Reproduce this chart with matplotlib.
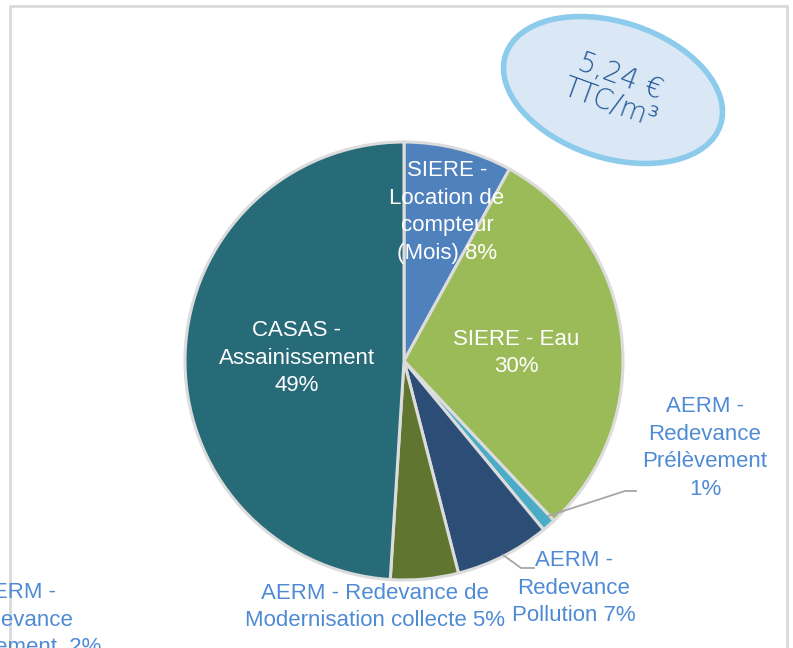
import matplotlib.pyplot as plt
from matplotlib.patches import Ellipse

# slices, clockwise from 12 o'clock
labels = ['SIERE -\nLocation de\ncompteur\n(Mois) 8%',
          'SIERE - Eau\n30%',
          'AERM -\nRedevance\nPrélèvement\n1%',
          'AERM -\nRedevance\nPollution 7%',
          'AERM - Redevance de\nModernisation collecte 5%',
          'CASAS -\nAssainissement\n49%']
shares = [8, 30, 1, 7, 5, 49]
colors = ['#4f81bd', '#9bbb59', '#4bacc6', '#2c4d75', '#5f7530', '#276a78']
cut_label = 'AERM -\nRedevance\nPrélèvement  2%'
badge_text = '5,24 €\nTTC/m³'

W, H = 793, 648
fig = plt.figure(figsize=(W / 100, H / 100), dpi=100)
ax = fig.add_axes([0, 0, 1, 1])
ax.set_xlim(0, W)
ax.set_ylim(0, H)
ax.set_aspect('equal')
ax.axis('off')


def py(y):
    return H - y


# chart frame (cropped screenshot)
ax.plot([10, 10, 787, 787], [0, py(6), py(6), 0], color='#d9d9d9', lw=2, zorder=0)

ax.pie(shares, colors=colors, startangle=90, counterclock=False,
       center=(404, py(361)), radius=219,
       wedgeprops=dict(edgecolor='#dcdcdc', linewidth=2.2))
ax.set_xlim(0, W)
ax.set_ylim(0, H)

txt_blue = '#4f8bd4'
fs = 16
pos = [(447, 212), (516, 353), (705, 448), (574, 588), (375, 607), (297, 358)]
tcol = ['white', 'white', txt_blue, txt_blue, txt_blue, 'white']
for lab, (x, y), c in zip(labels, pos, tcol):
    ax.text(x, py(y), lab, ha='center', va='center', color=c, fontsize=fs,
            family='Liberation Sans', linespacing=1.4, zorder=5)
ax.text(17, py(620), cut_label, ha='center', va='center', color=txt_blue, fontsize=fs,
        family='Liberation Sans', linespacing=1.4, zorder=5)

# leader lines
ax.plot([548, 625, 636], [py(516), py(491), py(491)], color='#a6a6a6', lw=1.3)
ax.plot([503, 521, 534], [py(555), py(568), py(568)], color='#a6a6a6', lw=1.3)

# price badge
ax.add_patch(Ellipse((613, py(90)), 226, 136, angle=-18, facecolor='#dae8f5',
                     edgecolor='#8ccbec', lw=4, zorder=6))
ax.text(615, py(90), badge_text, ha='center', va='center', rotation=-20,
        color='#1f5597', fontsize=20, family='DejaVu Sans', fontweight='light',
        linespacing=1.0, zorder=7)

fig.savefig('out.png', dpi=100)
